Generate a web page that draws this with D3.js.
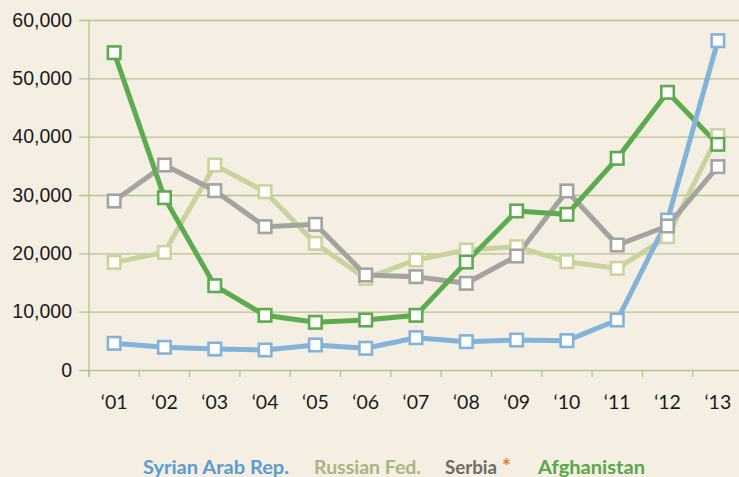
<!DOCTYPE html>
<html>
<head>
<meta charset="utf-8">
<script src="https://cdn.jsdelivr.net/npm/d3@7"></script>
<style>
  body { margin: 0; background: #f4efe2; }
  svg { display: block; font-family: "Lato", "Open Sans", sans-serif; }
  .tick text { fill: #1a1a1a; }
</style>
</head>
<body>
<script>
(function all (){
  //chart data
  var years = ["‘01", "‘02", "‘03", "‘04", "‘05", "‘06", "‘07", "‘08", "‘09", "‘10", "‘11", "‘12", "‘13"];
  var yTicks = [0, 10000, 20000, 30000, 40000, 50000, 60000];
  var syria = [4570, 3890, 3600, 3430, 4290, 3720, 5540, 4860, 5140, 5030, 8570, 25700, 56450];
  var russia = [18450, 20170, 35140, 30570, 21710, 15710, 18860, 20570, 21140, 18570, 17430, 22860, 40200];
  var serbia = [28970, 35140, 30740, 24570, 24970, 16290, 16000, 14860, 19540, 30690, 21430, 24690, 34860];
  var afghanistan = [54400, 29540, 14450, 9370, 8170, 8570, 9370, 18510, 27260, 26690, 36290, 47600, 38690];

  //series styles (draw order for the lines)
  var series = [
    {name: "Russian Fed.", values: russia, line: "#cbd39d"},
    {name: "Serbia", values: serbia, line: "#a5a29f"},
    {name: "Afghanistan", values: afghanistan, line: "#5dab4f"},
    {name: "Syrian Arab Rep.", values: syria, line: "#84b3d9"}
  ];

  var width = 739, height = 477;

  var svg = d3.select("body")
    .append("svg")
    .attr("width", width)
    .attr("height", height);

  svg.append("rect")
    .attr("width", width)
    .attr("height", height)
    .attr("fill", "#f4efe2");

  //scales
  var x = d3.scaleBand()
    .domain(years)
    .range([89, 743]);

  var y = d3.scaleLinear()
    .domain([0, 60000])
    .range([370, 20]);

  //horizontal gridlines + y labels
  var yAxis = d3.axisLeft(y)
    .tickValues(yTicks)
    .tickFormat(d3.format(","))
    .tickSize(-(width - 79))
    .tickPadding(7);

  svg.append("g")
    .attr("class", "axis y")
    .attr("transform", "translate(79,0)")
    .call(yAxis)
    .call(function(g){
      g.select(".domain").remove();
      g.selectAll(".tick line").attr("stroke", "#b9c18f").attr("stroke-width", 1.3);
      g.selectAll(".tick text")
        .attr("x", -7)
        .attr("font-size", 19.5);
    });

  //vertical axis line
  svg.append("line")
    .attr("x1", 89).attr("x2", 89)
    .attr("y1", 20).attr("y2", 377)
    .attr("stroke", "#b9c18f")
    .attr("stroke-width", 1.3);

  //x axis: ticks between categories, labels centered
  var xTickPos = years.map(function(d){ return x(d); });
  svg.append("g")
    .selectAll("line")
    .data(xTickPos)
    .enter()
    .append("line")
    .attr("x1", function(d){ return d; })
    .attr("x2", function(d){ return d; })
    .attr("y1", 370)
    .attr("y2", 377)
    .attr("stroke", "#b9c18f")
    .attr("stroke-width", 1.3);

  svg.append("g")
    .selectAll("text")
    .data(years)
    .enter()
    .append("text")
    .attr("x", function(d){ return x(d) + x.bandwidth() / 2; })
    .attr("y", 409)
    .attr("text-anchor", "middle")
    .attr("font-size", 19.5)
    .attr("fill", "#1a1a1a")
    .text(function(d){ return d; });

  //lines
  var line = d3.line()
    .x(function(d, i){ return x(years[i]) + x.bandwidth() / 2; })
    .y(function(d){ return y(d); });

  svg.append("g")
    .selectAll("path")
    .data(series)
    .enter()
    .append("path")
    .attr("d", function(d){ return line(d.values); })
    .attr("fill", "none")
    .attr("stroke", function(d){ return d.line; })
    .attr("stroke-width", 5)
    .attr("stroke-linejoin", "miter");

  //markers (syria first so the others sit on top)
  var markerOrder = [series[3], series[0], series[1], series[2]];
  var ms = 12.5;
  markerOrder.forEach(function(s){
    svg.append("g")
      .selectAll("rect")
      .data(s.values)
      .enter()
      .append("rect")
      .attr("x", function(d, i){ return x(years[i]) + x.bandwidth() / 2 - ms / 2; })
      .attr("y", function(d){ return y(d) - ms / 2; })
      .attr("width", ms)
      .attr("height", ms)
      .attr("fill", "#ffffff")
      .attr("stroke", s.line)
      .attr("stroke-width", 2.6);
  });

  //legend
  var legend = [
    {name: "Syrian Arab Rep.", color: "#5b9bd0", x: 143, w: 146},
    {name: "Russian Fed.", color: "#aab57f", x: 314, w: 107},
    {name: "Serbia", color: "#6f6a66", x: 445, w: 52},
    {name: "Afghanistan", color: "#5aa64b", x: 538, w: 107}
  ];
  var leg = svg.append("g")
    .attr("font-size", 19.5)
    .attr("font-weight", "bold");
  leg.selectAll("text")
    .data(legend)
    .enter()
    .append("text")
    .attr("x", function(d){ return d.x; })
    .attr("y", 474)
    .attr("fill", function(d){ return d.color; })
    .attr("textLength", function(d){ return d.w; })
    .attr("lengthAdjust", "spacingAndGlyphs")
    .text(function(d){ return d.name; });
  leg.append("text")
    .attr("x", 502)
    .attr("y", 474)
    .attr("font-size", 21)
    .attr("fill", "#e8772a")
    .text("*");
})();
</script>
</body>
</html>
